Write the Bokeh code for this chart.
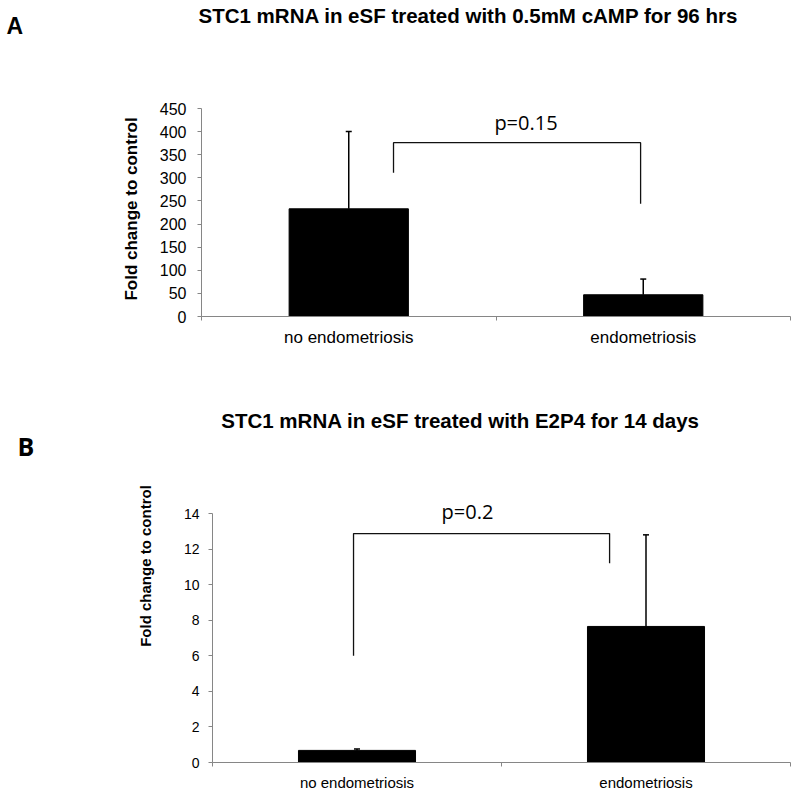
import math
from bokeh.plotting import figure
from bokeh.models import ColumnDataSource, Whisker, TeeHead, Label, FixedTicker, Range1d
from bokeh.layouts import column
from bokeh.embed import file_html
from bokeh.resources import INLINE

# ---------------- data ----------------
categories = ["no endometriosis", "endometriosis"]

title_a = "STC1 mRNA in eSF treated with 0.5mM cAMP for 96 hrs"
values_a = [233, 47]
err_top_a = [400, 81]
yticks_a = [0, 50, 100, 150, 200, 250, 300, 350, 400, 450]
bracket_a_y = [311, 376, 244]          # left foot, top, right foot
bracket_a_dx = [0.152, -0.009]         # offsets from category centres
p_a = "p=0.15"

title_b = "STC1 mRNA in eSF treated with E2P4 for 14 days"
values_b = [0.68, 7.65]
err_top_b = [0.76, 12.8]
yticks_b = [0, 2, 4, 6, 8, 10, 12, 14]
bracket_b_y = [6.0, 12.87, 11.2]
bracket_b_dx = [-0.012, -0.126]
p_b = "p=0.2"

ylabel = "Fold change to control"

ARIAL = "Liberation Sans"
CALIBRI = "Open Sans"
AXIS_GRAY = "#868686"
W = 800


def panel(title, vals, errs, yticks, br_y, br_dx, ptxt, letter, geo, sty):
    H = geo["height"]
    top = geo["top"]
    left = geo["left"]
    cat_px = geo["cat_px"]
    zero = geo["zero"] - top
    ypx = geo["ypx"]

    def dx(px):  # page x -> data x
        return (px - left) / cat_px

    def dy(py):  # page y -> data y
        return (zero - (py - top)) / ypx

    p = figure(width=W, height=H, output_backend="svg", toolbar_location=None, title=None,
               x_range=Range1d(dx(0), dx(W)), y_range=Range1d(dy(top + H), dy(top)),
               min_border=0)
    p.min_border_left = p.min_border_right = p.min_border_top = p.min_border_bottom = 0
    p.outline_line_color = None
    p.grid.visible = False
    p.background_fill_color = "white"
    p.border_fill_color = "white"

    xs = [i + 0.5 for i in range(len(categories))]
    src = ColumnDataSource(dict(x=xs, top=vals, up=errs))
    p.vbar(x="x", top="top", bottom=0, width=0.405, source=src,
           fill_color="black", line_color="black")
    w = Whisker(source=src, base="x", lower="top", upper="up", dimension="height",
                line_color="black", line_width=1.5,
                upper_head=TeeHead(size=6, line_color="black", line_width=1.5),
                lower_head=None)
    p.add_layout(w)

    # significance bracket
    bx = [xs[0] + br_dx[0], xs[0] + br_dx[0], xs[1] + br_dx[1], xs[1] + br_dx[1]]
    by = [br_y[0], br_y[1], br_y[1], br_y[2]]
    p.line(bx, by, line_color="#111111", line_width=1.3)

    # texts (positions are text centres)
    p.add_layout(Label(x=dx(sty["p_xy"][0]), y=dy(sty["p_xy"][1]), text=ptxt,
                       text_align="center", text_baseline="middle", text_font=CALIBRI,
                       text_font_size="20px", text_color="black"))
    p.add_layout(Label(x=dx(sty["title_xy"][0]), y=dy(sty["title_xy"][1]), text=title,
                       text_align="center", text_baseline="middle", text_font=ARIAL,
                       text_font_size="20.5px", text_font_style="bold", text_color="black"))
    p.add_layout(Label(x=dx(sty["letter_xy"][0]), y=dy(sty["letter_xy"][1]), text=letter,
                       text_align="left", text_baseline="middle",
                       text_font=sty["letter_font"], text_font_size=sty["letter_size"],
                       text_font_style="bold", text_color="black"))
    p.add_layout(Label(x=dx(sty["ylab_xy"][0]), y=dy(sty["ylab_xy"][1]), text=ylabel,
                       angle=math.pi / 2, text_align="center", text_baseline="middle",
                       text_font=ARIAL, text_font_size=sty["fs_ylab"],
                       text_font_style="bold", text_color="black"))

    # axes (drawn at the data origin, inside the canvas)
    xa = p.xaxis[0]
    xa.fixed_location = 0
    xa.bounds = (0, len(categories))
    xa.ticker = FixedTicker(ticks=xs, minor_ticks=list(range(len(categories) + 1)))
    xa.major_label_overrides = {x: c for x, c in zip(xs, categories)}
    xa.major_tick_out = 0
    xa.major_tick_in = 0
    xa.minor_tick_out = 4
    xa.minor_tick_in = 0
    xa.minor_tick_line_color = AXIS_GRAY
    xa.axis_line_color = AXIS_GRAY
    xa.major_label_text_font = ARIAL
    xa.major_label_text_font_size = sty["fs_cat"]
    xa.major_label_text_color = "black"
    xa.major_label_standoff = sty["cat_standoff"]

    ya = p.yaxis[0]
    ya.fixed_location = 0
    ya.bounds = (yticks[0], yticks[-1])
    ya.ticker = FixedTicker(ticks=yticks, minor_ticks=[])
    ya.major_tick_out = 4
    ya.major_tick_in = 0
    ya.minor_tick_out = 0
    ya.minor_tick_in = 0
    ya.major_tick_line_color = AXIS_GRAY
    ya.axis_line_color = AXIS_GRAY
    ya.major_label_text_font = ARIAL
    ya.major_label_text_font_size = sty["fs_tick"]
    ya.major_label_text_color = "black"
    ya.major_label_standoff = sty["tick_standoff"]
    return p


pa = panel(title_a, values_a, err_top_a, yticks_a, bracket_a_y, bracket_a_dx, p_a, "A",
           geo=dict(height=370, top=0, left=201, cat_px=294.5, zero=316, ypx=208 / 450),
           sty=dict(fs_tick="16px", fs_cat="17px", fs_ylab="17px", tick_standoff=11,
                    cat_standoff=7, title_xy=(468, 14.5), letter_xy=(6, 25),
                    letter_font=ARIAL, letter_size="23px", ylab_xy=(131, 208.5),
                    p_xy=(525.5, 121.5)))

pb = panel(title_b, values_b, err_top_b, yticks_b, bracket_b_y, bracket_b_dx, p_b, "B",
           geo=dict(height=420, top=370, left=212, cat_px=289, zero=762, ypx=249 / 14),
           sty=dict(fs_tick="14px", fs_cat="15px", fs_ylab="15px", tick_standoff=9,
                    cat_standoff=7, title_xy=(460, 419.5), letter_xy=(17, 445.5),
                    letter_font=CALIBRI, letter_size="25px", ylab_xy=(144.5, 565.5),
                    p_xy=(467, 511)))

layout = column(pa, pb, spacing=0)
open("out.html", "w").write(file_html(layout, INLINE))
